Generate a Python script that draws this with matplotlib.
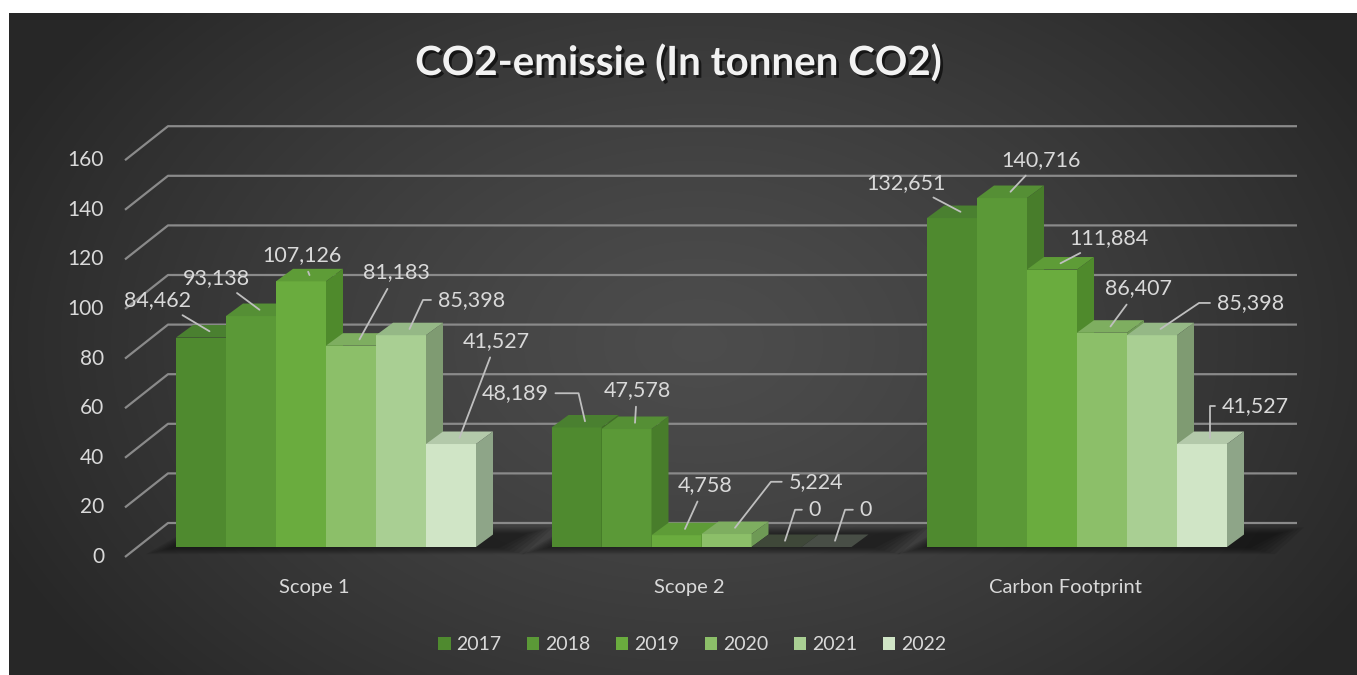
import numpy as np
import matplotlib
matplotlib.use("Agg")
import matplotlib.pyplot as plt
from matplotlib.patches import Polygon, Patch
from matplotlib import patheffects as pe
from matplotlib.colors import to_rgb

plt.rcParams['font.family'] = ['Lato', 'DejaVu Sans']

# data
categories = ['Scope 1', 'Scope 2', 'Carbon Footprint']
years = ['2017', '2018', '2019', '2020', '2021', '2022']
v2017 = [84.462, 48.189, 132.651]
v2018 = [93.138, 47.578, 140.716]
v2019 = [107.126, 4.758, 111.884]
v2020 = [81.183, 5.224, 86.407]
v2021 = [85.398, 0, 85.398]
v2022 = [41.527, 0, 41.527]
series = [v2017, v2018, v2019, v2020, v2021, v2022]
yticks = [0, 20, 40, 60, 80, 100, 120, 140, 160]

colors = ['#4f8a2f', '#5b9937', '#6aac3e', '#8cbf69', '#a9cf93', '#d0e5c6']
side_colors = ['#3f6f25', '#487d2b', '#4f8a2c', '#6e9a55', '#7f9b72', '#8ea588']
top_colors = ['#4a8030', '#558f35', '#5e9c37', '#7eae60', '#95b886', '#b3c9aa']

# label offsets in pixels (dx, dy up) per year, per category
lab_off = [
    [(-52, 31), (-70, 28), (-55, 29)],
    [(-43, 32), (2, 33), (30, 32)],
    [(-8, 20), (20, 44), (48, 25)],
    [(37, 67), (81, 46), (28, 38)],
    [(62, 29), (30, 31), (90, 26)],
    [(37, 97), (31, 31), (45, 32)],
]
# leader hook angle at the bar end (None = straight line)
lab_hook = [
    [None, 103, None],
    [None, None, None],
    [None, None, None],
    [None, 52, None],
    [65, 72, 34],
    [None, 72, 90],
]

W, H = 1357, 675
fig = plt.figure(figsize=(W / 100, H / 100), dpi=100)
fig.patch.set_facecolor('white')

# background gradient
bg = fig.add_axes([9 / W, 0, 1 - 9 / W, 1 - 13 / H])
yy, xx = np.mgrid[0:662, 0:1348]
r = np.sqrt(((xx - 690) / 760.0) ** 2 + ((yy - 330) / 520.0) ** 2)
g = 0.30 - (0.30 - 0.155) * np.clip(r, 0, 1) ** 1.3
bg.imshow(np.dstack([g, g, g]), aspect='auto', interpolation='bilinear')
bg.axis('off')

# main axes: pixel based mapping
x0px, y0px = 326, 547
sx, sy = 375.5, 2.48
PX, PY = 1 / sx, 1 / sy
ax = fig.add_axes([0, 0, 1, 1])
ax.set_xlim(-x0px * PX, (W - x0px) * PX)
ax.set_ylim(-(H - y0px) * PY, y0px * PY)
ax.axis('off')

bw = 50 * PX
DX, DY = 17 * PX, 12.5 * PY
bx, by = 31 * PX, 24 * PY        # back wall offset from bar plane
fx, fy = -13 * PX, -10 * PY      # front edge offset from bar plane
grid_l = (168 - x0px) * PX
grid_r = (1297 - x0px) * PX
grid_front = (125 - x0px) * PX

# gridlines on back wall + ticks
for t in yticks:
    ax.plot([grid_front, grid_l, grid_r], [t + fy, t + by, t + by],
            color='#8a8a8a', lw=1.6, zorder=1, solid_capstyle='butt')
    ax.text((104 - x0px) * PX, t + fy, str(t), ha='right', va='center',
            fontsize=15, color='#d9d9d9', zorder=2)

xc = np.arange(len(categories)) * (375.5 * PX)

# soft floor shadows
for c in xc:
    gl = c - 3 * bw
    gr = c + 3 * bw
    for k in range(6):
        e = (6 - k) * 5 * PX
        ey = (6 - k) * 1.2 * PY
        poly = [(gl - e, -ey), (gr + 18 * PX + e, -ey),
                (gr + DX + 30 * PX + e, DY + ey), (gl + DX, DY + ey)]
        ax.add_patch(Polygon(poly, closed=True, facecolor='black',
                             edgecolor='none', alpha=0.09, zorder=3))

# 3d-looking bars
for j, c in enumerate(xc):
    for i, vals in enumerate(series):
        v = vals[j]
        left = c - 3 * bw + i * bw
        right = left + bw
        ax.bar(left, v, width=bw, align='edge', color=colors[i],
               edgecolor='none', zorder=4)
        tc = top_colors[i]
        if v == 0:
            tc = tuple(0.25 * np.array(to_rgb(colors[i])) + 0.08)
        top = [(left, v), (right, v), (right + DX, v + DY), (left + DX, v + DY)]
        side = [(right, 0), (right, v), (right + DX, v + DY), (right + DX, DY)]
        ax.add_patch(Polygon(top, closed=True, facecolor=tc,
                             edgecolor='none', zorder=4))
        ax.add_patch(Polygon(side, closed=True, facecolor=side_colors[i],
                             edgecolor='none', zorder=4))

# data labels with leader lines
for j, c in enumerate(xc):
    for i, vals in enumerate(series):
        v = vals[j]
        left = c - 3 * bw + i * bw
        ax_pt = (left + bw / 2 + DX / 2, v + DY / 2)
        txt = f"{v:,.3f}".replace('.', ',') if v else '0'
        dx, dy = lab_off[i][j]
        hook = lab_hook[i][j]
        if hook is None:
            conn = 'arc3'
            rp = (0.5, 0.5)
        elif dx < 0:
            conn = f'angle,angleA=0,angleB={hook},rad=0'
            rp = (1.0, 0.5)
        else:
            conn = f'angle,angleA=180,angleB={hook},rad=0'
            rp = (0.0, 0.5)
        ax.annotate(txt, xy=ax_pt, xytext=(dx, dy), textcoords='offset pixels',
                    ha='center', va='center', fontsize=15.5, color='#d9d9d9',
                    zorder=6,
                    arrowprops=dict(arrowstyle='-', color='#bfbfbf', lw=1.3,
                                    shrinkA=3, shrinkB=0, relpos=rp,
                                    connectionstyle=conn))

# category labels
for c, name in zip(xc, categories):
    ax.text(c - 12 * PX, -41 * PY, name, ha='center', va='center',
            fontsize=14.5, color='#d9d9d9', zorder=5)

# title
fig.text(0.4996, 1 - 75 / H, 'CO2-emissie (In tonnen CO2)', ha='center',
         va='baseline', fontsize=29, fontweight='bold', color='#f2f2f2',
         path_effects=[pe.withSimplePatchShadow(offset=(2, -2), alpha=0.6,
                                                 shadow_rgbFace='black')])

# legend
handles = [Patch(facecolor=col, edgecolor='none', label=y)
           for col, y in zip(colors, years)]
leg = fig.legend(handles=handles, loc='center', bbox_to_anchor=(0.51, 30 / H),
                 ncol=6, frameon=False, fontsize=14, handlelength=0.65,
                 handleheight=0.65, handletextpad=0.3, columnspacing=1.3)
for t in leg.get_texts():
    t.set_color('#d9d9d9')

fig.savefig('out.png', dpi=100, facecolor=fig.get_facecolor())
